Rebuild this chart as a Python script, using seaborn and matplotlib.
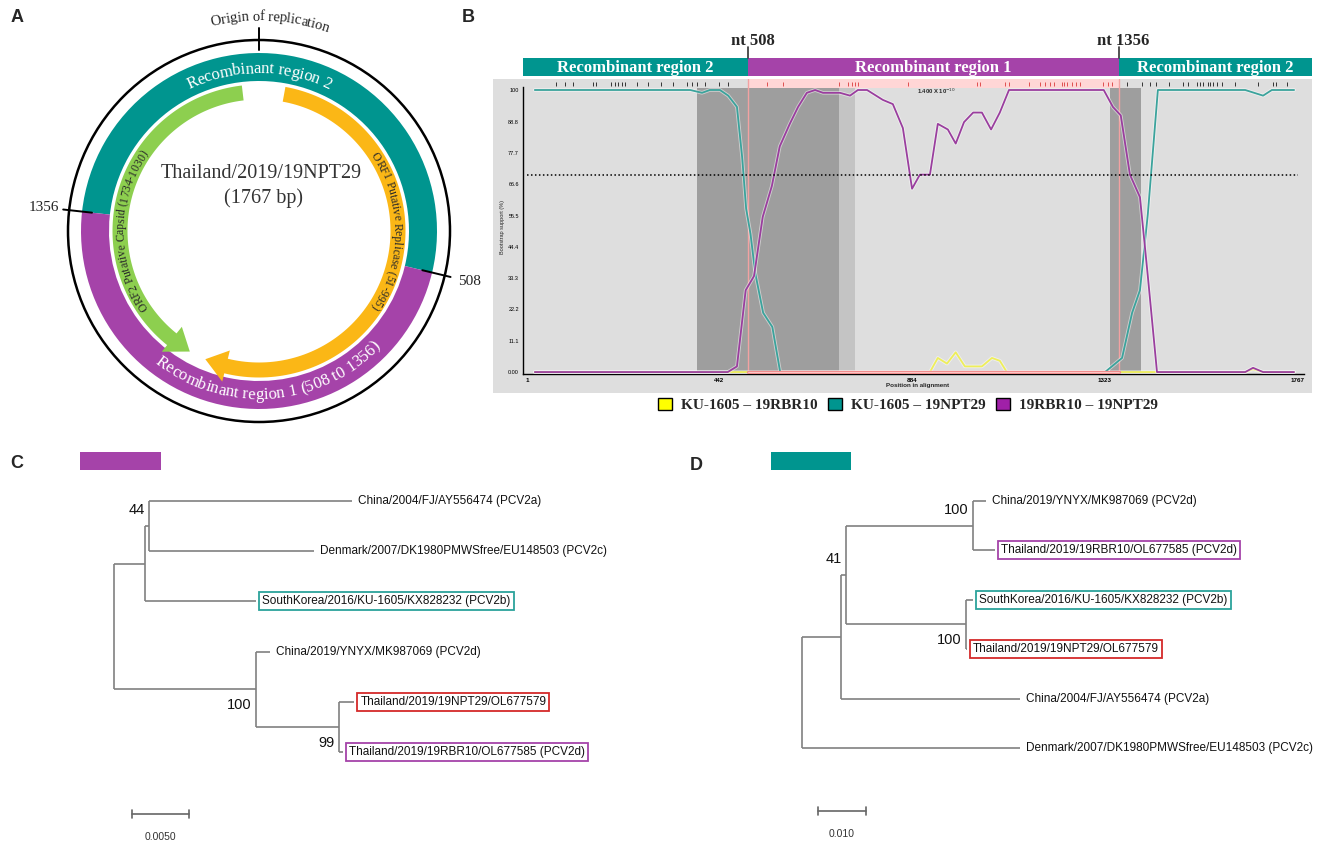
import numpy as np
import pandas as pd
import matplotlib.pyplot as plt
import matplotlib.patheffects as pe
import seaborn as sns
from matplotlib.patches import Wedge, Polygon, Rectangle, Patch, Circle
from matplotlib.font_manager import FontProperties, findfont, get_font

sns.set_style("white")
plt.rcParams['font.family'] = ['Liberation Sans', 'DejaVu Sans']

# ---------------- data ----------------
# A: genome map
genome_len = 1767
recomb_breaks = [508, 1356]
orf1_span = [51, 995]      # clockwise
orf2_span = [1734, 1030]   # counter-clockwise

# B: bootscan
pairs = ['KU-1605 – 19RBR10', 'KU-1605 – 19NPT29', '19RBR10 – 19NPT29']
yellow_pos = [19, 924, 942, 963, 983, 1004, 1043, 1066, 1084, 1100, 1646, 1664, 1687, 1758]
yellow_val = [0, 0, 5, 3, 7, 2, 2, 5, 4, 0, 0, 1, 0, 0]
teal_pos = [19, 375, 402, 420, 443, 462, 482, 494, 503, 513, 524, 542, 563, 581,
            1325, 1364, 1387, 1405, 1423, 1446, 1646, 1687, 1707, 1758]
teal_val = [100, 100, 99, 100, 100, 98, 94, 76, 58, 49, 35, 21, 16, 0,
            0, 5, 21, 29, 56, 100, 100, 98, 100, 100]
magenta_pos = [19, 461, 482, 502, 521, 541, 562, 580, 603, 622, 642, 661, 679, 718, 741,
               759, 780, 816, 839, 862, 883, 901, 924, 942, 965, 983, 1002, 1023, 1043,
               1064, 1084, 1105, 1322, 1343, 1361, 1382, 1405, 1423, 1444, 1646, 1664,
               1687, 1758]
magenta_val = [0, 0, 2, 29, 34, 55, 66, 80, 88, 94, 99, 100, 99, 99, 98,
               100, 100, 96.5, 95, 86.5, 65, 70, 70, 88, 86, 81, 88.6, 92, 92,
               86, 92, 100, 100, 94, 91, 70, 62, 34, 0, 0, 1.5,
               0, 0]
threshold = 70
shade_dark = [(390, 716), (1336, 1407)]
shade_light = [(716, 752)]
sites_outside = [67, 88, 106, 152, 159, 193, 203, 209, 219, 225, 253, 278, 308, 335, 367,
                 379, 390, 409, 441, 461, 1375, 1410, 1428, 1442, 1471, 1503, 1515, 1536,
                 1542, 1549, 1561, 1565, 1572, 1581, 1593, 1623, 1675, 1710, 1716, 1742]
sites_inside = [551, 587, 716, 736, 745, 752, 759, 874, 1032, 1039, 1096, 1105, 1151, 1176,
                1187, 1199, 1208, 1226, 1231, 1238, 1249, 1258, 1268, 1320, 1332, 1341]
x_ticks = [1, 442, 884, 1323, 1767]
y_ticks = [0, 11.1, 22.2, 33.3, 44.4, 55.5, 66.6, 77.7, 88.8, 100]
y_ticklabels = ['0.00', '11.1', '22.2', '33.3', '44.4', '55.5', '66.6', '77.7', '88.8', '100']

# C: tree, region 1
c_nodes = ['root', 'nA', 'n44', 'China2004', 'Denmark', 'SouthKorea', 'n100', 'China2019',
           'n99', 'NPT29', 'RBR10']
c_parents = [None, 'root', 'nA', 'n44', 'n44', 'nA', 'root', 'n100', 'n100', 'n99', 'n99']
c_lengths = [0, 0.00272, 0.00035, 0.0178, 0.01447, 0.00974, 0.01246, 0.00123, 0.00728,
             0.00132, 0.00035]
c_support = {'n44': (44, 'above'), 'n100': (100, 'below'), 'n99': (99, 'below')}

# D: tree, region 2
d_nodes = ['root', 'nC', 'nB', 'n100a', 'China2019', 'RBR10', 'n100b', 'SouthKorea', 'NPT29',
           'China2004', 'Denmark']
d_parents = [None, 'root', 'nC', 'nB', 'n100a', 'n100a', 'nB', 'n100b', 'n100b', 'nC', 'root']
d_lengths = [0, 0.0081, 0.00104, 0.0265, 0.0027, 0.0046, 0.025, 0.0015, 0.0002, 0.0373, 0.0454]
d_support = {'n100a': (100, 'above'), 'nB': (41, 'above'), 'n100b': (100, 'below')}

leaf_labels = {
    'China2004': 'China/2004/FJ/AY556474 (PCV2a)',
    'Denmark': 'Denmark/2007/DK1980PMWSfree/EU148503 (PCV2c)',
    'SouthKorea': 'SouthKorea/2016/KU-1605/KX828232 (PCV2b)',
    'China2019': 'China/2019/YNYX/MK987069 (PCV2d)',
    'NPT29': 'Thailand/2019/19NPT29/OL677579',
    'RBR10': 'Thailand/2019/19RBR10/OL677585 (PCV2d)',
}

TEAL = '#00958F'
PURPLE = '#A543A9'
GREEN = '#8DCF4F'
ORANGE = '#FBB716'
leaf_boxes = {'SouthKorea': '#2BA39B', 'NPT29': '#D42A2A', 'RBR10': '#A543A9'}

W, H = 1325, 852
fig = plt.figure(figsize=(W / 100, H / 100), dpi=100)
fig.patch.set_facecolor('white')
SERIF = 'Liberation Serif'


def px_axes(x0, y0, x1, y1):
    return fig.add_axes([x0 / W, 1 - y1 / H, (x1 - x0) / W, (y1 - y0) / H])


def fig_rect(x0, y0, x1, y1, color):
    fig.patches.append(Rectangle((x0 / W, 1 - y1 / H), (x1 - x0) / W, (y1 - y0) / H,
                                 transform=fig.transFigure, fc=color, ec='none', zorder=-10))


def panel_label(x, y, s):
    fig.text(x / W, 1 - y / H, s, fontsize=13, fontweight='bold', ha='center', va='center')


# ---------------- A: circular genome ----------------
axA = px_axes(0, 0, 490, 430)
axA.set_xlim(-259, 231)
axA.set_ylim(-199, 231)
axA.axis('off')


def theta(p):
    return p / genome_len * 360.0


def xy(r, t):
    a = np.radians(t)
    return r * np.sin(a), r * np.cos(a)


def arc_text(ax, s, r, t_center, size, color, outward=True, weight='normal'):
    fp = FontProperties(family=SERIF, size=size, weight=weight)
    font = get_font(findfont(fp))
    font.set_size(size, 72)
    adv = [font.load_char(ord(ch)).linearHoriAdvance / 65536 * 100 / 72 for ch in s]
    sign = 1 if outward else -1
    pos = -sum(adv) / 2
    for ch, a in zip(s, adv):
        t = t_center + sign * np.degrees((pos + a / 2) / r)
        x, y = xy(r, t)
        rot = -t if outward else 180 - t
        ax.text(x, y, ch, rotation=rot, rotation_mode='anchor', ha='center', va='center',
                fontproperties=fp, color=color)
        pos += a


def arc_arrow(ax, p0, p1, r, width, head_w, head_deg, color, clockwise):
    t0, t1 = theta(p0), theta(p1)
    if clockwise:
        if t1 < t0:
            t1 += 360
        tb = t1 - head_deg
    else:
        if t1 > t0:
            t1 -= 360
        tb = t1 + head_deg
    ts = np.linspace(t0, tb, 120)
    outer = [xy(r + width / 2, t) for t in ts]
    inner = [xy(r - width / 2, t) for t in ts[::-1]]
    head = [xy(r + head_w / 2, tb), xy(r, t1), xy(r - head_w / 2, tb)]
    ax.add_patch(Polygon(outer + head + inner, closed=True, fc=color, ec='none'))


b508, b1356 = recomb_breaks
axA.add_patch(Wedge((0, 0), 178, 90 - theta(b508) - 360, 90 - theta(b1356), width=28,
                    fc=TEAL, ec='none'))
axA.add_patch(Wedge((0, 0), 178, 90 - theta(b1356), 90 - theta(b508), width=28,
                    fc=PURPLE, ec='none'))
axA.add_patch(Circle((0, 0), 191, fill=False, ec='black', lw=1.8))
for b in recomb_breaks:
    (xa, ya), (xb, yb) = xy(168, theta(b)), xy(197, theta(b))
    axA.plot([xa, xb], [ya, yb], color='black', lw=1.4)
(xa, ya), (xb, yb) = xy(181, 0), xy(203, 0)
axA.plot([xa, xb], [ya, yb], color='black', lw=1.4)
for b in recomb_breaks:
    tx, ty = xy(216, theta(b))
    axA.text(tx, ty, str(b), fontfamily=SERIF, fontsize=11, ha='center', va='center',
             color='#222222')

arc_arrow(axA, orf2_span[0], orf2_span[1], 139, 15, 32, 9, GREEN, clockwise=False)
arc_arrow(axA, orf1_span[0], orf1_span[1], 139, 15, 32, 9, ORANGE, clockwise=True)

arc_text(axA, 'Origin of replication', 214, 3, 10.5, '#222222', outward=True)
arc_text(axA, 'Recombinant region 2', 162, 0, 12, 'white', outward=True)
arc_text(axA, 'Recombinant region 1 (508 t0 1356)', 164, 176, 12, 'white', outward=False)
arc_text(axA, 'ORF1 Putative Replicase (51-995)', 138, 90, 8.5, '#2a2a2a', outward=True)
arc_text(axA, 'ORF2 Putative Capsid (1734-1030)', 138, 270, 8.5, '#2a2a2a', outward=True)
axA.text(2, 57, 'Thailand/2019/19NPT29', fontfamily=SERIF, fontsize=14.5, ha='center',
         va='center', color='#333333')
axA.text(4, 33, f'({genome_len} bp)', fontfamily=SERIF, fontsize=14.5, ha='center',
         va='center', color='#333333')

# ---------------- B: bootscan ----------------
BG = '#DEDEDE'
fig_rect(493, 79, 1312, 393, BG)
axB = px_axes(523, 79, 1312, 374.3)
axB.set_facecolor(BG)
axB.set_xlim(-8, 1799)
axB.set_ylim(-0.8, 103.9)

for a, b in shade_dark:
    axB.fill_between([a, b], 0, 100.7, color='#9E9E9E', lw=0, zorder=1)
for a, b in shade_light:
    axB.fill_between([a, b], 0, 100.7, color='#C4C4C4', lw=0, zorder=1)
axB.fill_between([b508, b1356], 100.7, 103.9, color='#FFD6D6', lw=0, zorder=1)
axB.vlines(sites_outside, 101.4, 102.9, color='#333333', lw=0.7, zorder=2)
axB.vlines(sites_inside, 101.4, 102.9, color='#E05050', lw=0.7, zorder=2)
for b in recomb_breaks:
    axB.plot([b, b], [0, 103.9], color='#F2A2A2', lw=1.0, zorder=2)

df = pd.concat([
    pd.DataFrame({'pos': yellow_pos, 'support': yellow_val, 'pair': pairs[0]}),
    pd.DataFrame({'pos': teal_pos, 'support': teal_val, 'pair': pairs[1]}),
    pd.DataFrame({'pos': magenta_pos, 'support': magenta_val, 'pair': pairs[2]}),
])
line_colors = ['#EEEE5A', '#3BA39C', '#9A3E9E']
sns.lineplot(data=df, x='pos', y='support', hue='pair', hue_order=pairs,
             palette=line_colors, estimator=None, sort=False, lw=1.3, legend=False,
             ax=axB, zorder=3)
for ln in axB.lines[-3:]:
    ln.set_path_effects([pe.Stroke(linewidth=2.6, foreground='white', alpha=0.5), pe.Normal()])

axB.plot([b508, b1356], [0, 0], color='#F08C8C', lw=2.4, zorder=4)
axB.plot([b508, b1356], [0, 0], color='#FFD2D2', lw=0.6, zorder=4)
axB.plot([1, genome_len], [threshold, threshold], color='black', lw=1.1,
         ls=(0, (1, 1.6)), zorder=4)
axB.text(940, 99.6, r'1.400 X 10$^{-10}$', fontsize=4.2, fontweight='bold', ha='center',
         va='center', zorder=5)

for s in ['top', 'right']:
    axB.spines[s].set_visible(False)
axB.spines['left'].set_bounds(-0.8, 101)
axB.spines['bottom'].set_bounds(-8, 1780)
for s in ['left', 'bottom']:
    axB.spines[s].set_color('black')
    axB.spines[s].set_linewidth(1)
axB.set_xticks(x_ticks)
axB.set_xticklabels([str(v) for v in x_ticks], fontsize=4.5, fontweight='bold')
axB.set_yticks(y_ticks)
axB.set_yticklabels(y_ticklabels, fontsize=4)
axB.tick_params(length=2, width=0.6, pad=1, colors='black')
axB.set_xlabel('Position in alignment', fontsize=4.5, fontweight='bold', labelpad=0)
axB.set_ylabel('Bootstrap support (%)', fontsize=4, labelpad=2)

# header bars
axH = px_axes(523, 58, 1312, 76)
axH.set_xlim(axB.get_xlim())
axH.set_ylim(0, 1)
axH.axis('off')
x0, x1 = axB.get_xlim()
spans = [(x0, b508, TEAL, 'Recombinant region 2'),
         (b508, b1356, PURPLE, 'Recombinant region 1'),
         (b1356, x1, TEAL, 'Recombinant region 2')]
for a, b, col, lab in spans:
    axH.fill_between([a, b], 0, 1, color=col, lw=0)
    axH.text((a + b) / 2, 0.45, lab, color='white', fontfamily=SERIF, fontweight='bold',
             fontsize=12, ha='center', va='center')
for b in recomb_breaks:
    axH.plot([b, b], [1, 1.6], color='#333333', lw=1.2, clip_on=False)
    axH.text(b + 10, 1.95, f'nt {b}', fontfamily=SERIF, fontweight='bold', fontsize=12,
             ha='center', va='center', clip_on=False)

fp_leg = FontProperties(family=SERIF, weight='bold', size=11)
handles = [Patch(fc=c, ec='black', lw=1) for c in ['#FFFF00', TEAL, '#A020A8']]
fig.legend(handles, pairs, loc='center', bbox_to_anchor=(908 / W, 1 - 405 / H), ncol=3,
           frameon=False, prop=fp_leg, handlelength=0.9, handleheight=0.9,
           columnspacing=0.7, handletextpad=0.6, borderaxespad=0)


# ---------------- C & D: trees ----------------
def draw_tree(ax, nodes, parents, lengths, support):
    x, y = {}, {}
    for n, p, l in zip(nodes, parents, lengths):
        x[n] = l if p is None else x[p] + l
    children = {n: [c for c, p in zip(nodes, parents) if p == n] for n in nodes}
    leaves = [n for n in nodes if not children[n]]
    for i, n in enumerate(leaves):
        y[n] = i
    for n in reversed(nodes):
        if children[n]:
            y[n] = np.mean([y[c] for c in children[n]])
    kw = dict(color='#808080', lw=1.2, solid_capstyle='butt')
    for n, p in zip(nodes, parents):
        if p is not None:
            ax.plot([x[p], x[n]], [y[n], y[n]], **kw)
        if children[n]:
            ys = [y[c] for c in children[n]]
            ax.plot([x[n], x[n]], [min(ys), max(ys)], **kw)
    for n in leaves:
        box = None
        if n in leaf_boxes:
            box = dict(boxstyle='square,pad=0.25', fc='white', ec=leaf_boxes[n], lw=1.3)
        ax.annotate(leaf_labels[n], (x[n], y[n]), xytext=(4.5, 0), textcoords='offset points',
                    fontsize=8.5, va='center', ha='left', bbox=box, color='#111111')
    for n, (val, where) in support.items():
        dy = 11.5 if where == 'above' else -11.5
        ax.annotate(str(val), (x[n], y[n]), xytext=(-3, dy), textcoords='offset points',
                    fontsize=10.5, va='center', ha='right', color='#111111')


def scale_bar(ax, x0, length, row, label):
    ax.plot([x0, x0 + length], [row, row], color='#666666', lw=1.2)
    for xx in [x0, x0 + length]:
        ax.plot([xx, xx], [row - 0.08, row + 0.08], color='#666666', lw=1.2)
    ax.text(x0 + length / 2, row + 0.46, label, fontsize=7.5, ha='center', va='center',
            color='#333333')


axC = px_axes(100, 480, 660, 850)
axC.set_xlim(-0.001228, 0.04789)
axC.set_ylim(6.952, -0.418)
axC.axis('off')
draw_tree(axC, c_nodes, c_parents, c_lengths, c_support)
scale_bar(axC, 0.00158, 0.005, 6.24, '0.0050')

axD = px_axes(665, 480, 1325, 850)
axD.set_xlim(-0.02854, 0.10896)
axD.set_ylim(7.065, -0.425)
axD.axis('off')
draw_tree(axD, d_nodes, d_parents, d_lengths, d_support)
scale_bar(axD, 0.00333, 0.010, 6.28, '0.010')

fig_rect(80, 452, 161, 470, PURPLE)
fig_rect(771, 452, 851, 470, TEAL)

panel_label(17, 17, 'A')
panel_label(468, 17, 'B')
panel_label(17, 463, 'C')
panel_label(696, 465, 'D')

fig.savefig('out.png', dpi=100, facecolor='white')
